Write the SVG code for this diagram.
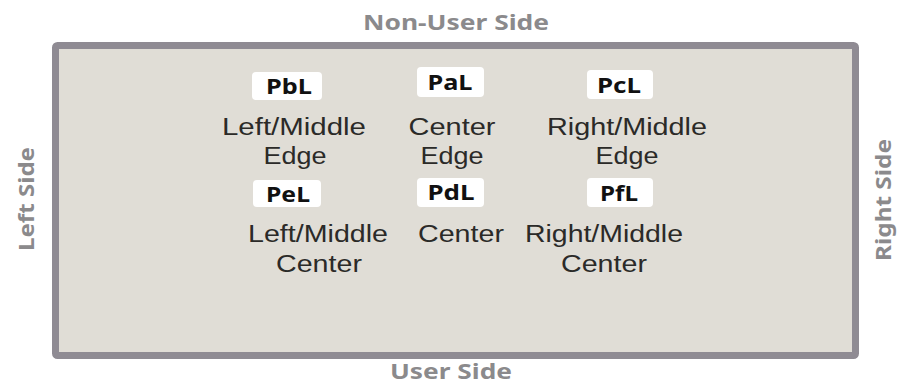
<svg xmlns="http://www.w3.org/2000/svg" width="900" height="385" viewBox="0 0 900 385">
<style>
.side{font-family:"Noto Sans","Liberation Sans",sans-serif;font-weight:bold;font-size:22px;fill:#8b8a8c;text-anchor:middle}
.lbl{fill:#ffffff;stroke:none}
.lt{font-family:"Noto Sans","Liberation Sans",sans-serif;font-weight:bold;font-size:22px;fill:#111111;text-anchor:middle}
.d{font-family:"Liberation Sans","Noto Sans",sans-serif;font-size:23px;fill:#2b2a28;text-anchor:middle}
</style>
<rect width="900" height="385" fill="#ffffff"/>
<g id="board">
<rect x="55.5" y="45.5" width="800" height="310" fill="#e0ddd6" stroke="#8f8b93" stroke-width="7" rx="2"/>
</g>
<g id="sides">
<text class="side" x="456" y="30" textLength="186" lengthAdjust="spacingAndGlyphs">Non-User Side</text>
<text class="side" x="451" y="379" textLength="122" lengthAdjust="spacingAndGlyphs">User Side</text>
<text class="side" transform="translate(34,199) rotate(-90)" textLength="104" lengthAdjust="spacingAndGlyphs">Left Side</text>
<text class="side" transform="translate(891,200) rotate(-90)" textLength="122" lengthAdjust="spacingAndGlyphs">Right Side</text>
</g>
<g id="PbL">
<rect class="lbl" x="252" y="72" width="70" height="28" rx="4"/>
<text class="lt" x="289" y="94" textLength="46" lengthAdjust="spacingAndGlyphs">PbL</text>
<text class="d" x="294" y="135" textLength="144" lengthAdjust="spacingAndGlyphs">Left/Middle</text>
<text class="d" x="295" y="164" textLength="63" lengthAdjust="spacingAndGlyphs">Edge</text>
</g>
<g id="PaL">
<rect class="lbl" x="417" y="67" width="67" height="30" rx="4"/>
<text class="lt" x="450" y="90" textLength="45" lengthAdjust="spacingAndGlyphs">PaL</text>
<text class="d" x="452" y="135" textLength="87" lengthAdjust="spacingAndGlyphs">Center</text>
<text class="d" x="452" y="164" textLength="63" lengthAdjust="spacingAndGlyphs">Edge</text>
</g>
<g id="PcL">
<rect class="lbl" x="587" y="70" width="66" height="29" rx="4"/>
<text class="lt" x="619" y="93" textLength="44" lengthAdjust="spacingAndGlyphs">PcL</text>
<text class="d" x="627" y="135" textLength="160" lengthAdjust="spacingAndGlyphs">Right/Middle</text>
<text class="d" x="627" y="164" textLength="63" lengthAdjust="spacingAndGlyphs">Edge</text>
</g>
<g id="PeL">
<rect class="lbl" x="253" y="180" width="68" height="27" rx="4"/>
<text class="lt" x="288" y="202" textLength="44" lengthAdjust="spacingAndGlyphs">PeL</text>
<text class="d" x="318" y="242" textLength="140" lengthAdjust="spacingAndGlyphs">Left/Middle</text>
<text class="d" x="319" y="272" textLength="86" lengthAdjust="spacingAndGlyphs">Center</text>
</g>
<g id="PdL">
<rect class="lbl" x="417" y="178" width="67" height="29" rx="4"/>
<text class="lt" x="451" y="200" textLength="47" lengthAdjust="spacingAndGlyphs">PdL</text>
<text class="d" x="461" y="242" textLength="86" lengthAdjust="spacingAndGlyphs">Center</text>
</g>
<g id="PfL">
<rect class="lbl" x="587" y="178" width="66" height="29" rx="4"/>
<text class="lt" x="619" y="201" textLength="38" lengthAdjust="spacingAndGlyphs">PfL</text>
<text class="d" x="604" y="242" textLength="158" lengthAdjust="spacingAndGlyphs">Right/Middle</text>
<text class="d" x="604" y="272" textLength="86" lengthAdjust="spacingAndGlyphs">Center</text>
</g>
<g id="connectors"></g>
</svg>
